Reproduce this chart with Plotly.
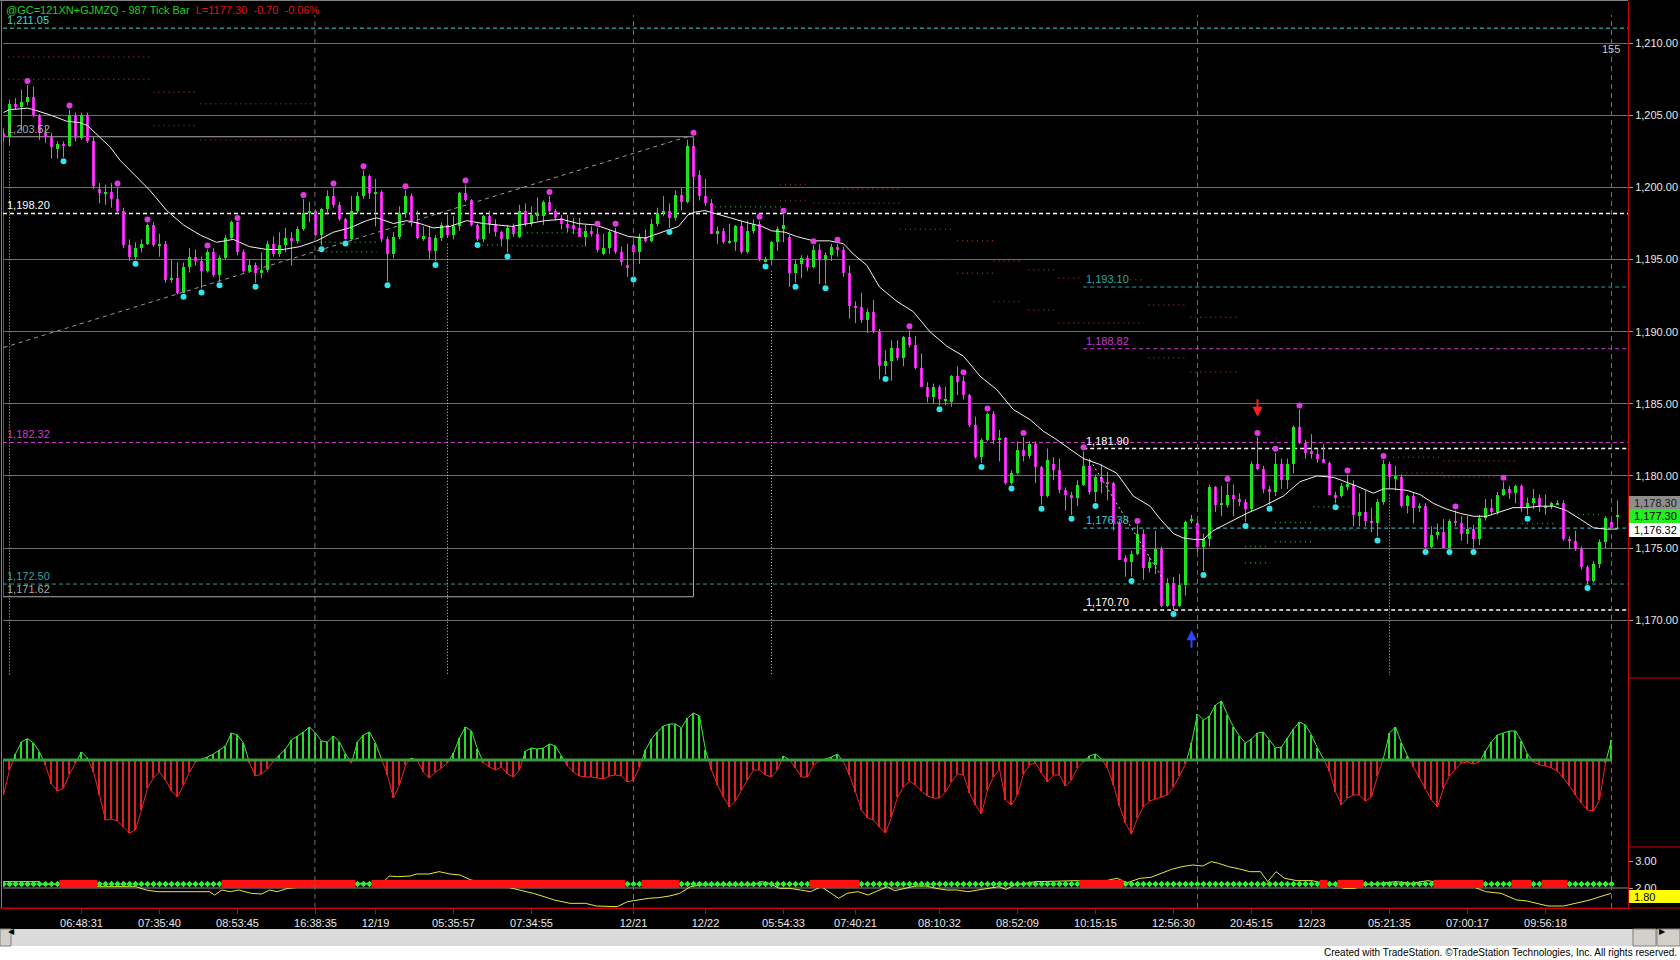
import plotly.graph_objects as go

# ---------------------------------------------------------------- data
OPEN = [
1203.8,1203.5,1205.8,1205.6,1205.9,1206.3,1205.0,1203.8,1203.5,1202.7,
1203.0,1202.9,1205.0,1203.4,1205.0,1203.2,1199.9,1199.6,1199.7,1199.2,
1198.4,1196.0,1195.2,1195.8,1196.1,1197.4,1196.0,1196.1,1193.6,1193.7,
1192.7,1194.5,1195.2,1194.9,1194.2,1195.5,1193.9,1195.1,1196.5,1197.6,
1195.5,1194.2,1194.6,1194.1,1194.3,1196.1,1195.4,1196.0,1196.5,1196.3,
1197.1,1198.2,1198.4,1196.7,1198.5,1199.4,1198.8,1197.8,1196.4,1198.4,
1199.4,1200.8,1199.6,1199.7,1196.4,1195.4,1196.6,1198.2,1199.4,1197.6,
1196.5,1196.6,1195.6,1196.5,1197.4,1196.7,1197.3,1199.6,1199.1,1197.4,
1196.4,1198.0,1197.5,1196.9,1196.4,1197.3,1196.6,1198.4,1197.5,1198.1,
1198.0,1199.0,1198.4,1197.9,1197.5,1197.4,1197.2,1196.6,1197.0,1196.8,
1195.4,1195.8,1196.9,1195.5,1194.6,1196.0,1195.5,1196.6,1196.3,1197.5,
1198.2,1198.4,1197.9,1199.5,1199.0,1202.9,1200.9,1199.4,1198.9,1196.8,
1197.0,1196.2,1196.2,1197.3,1195.5,1197.0,1197.5,1194.9,1195.0,1196.2,
1197.1,1196.6,1194.1,1194.7,1195.1,1194.5,1195.7,1195.0,1195.3,1195.9,
1195.7,1194.1,1191.8,1191.7,1190.8,1191.4,1190.0,1187.6,1188.0,1188.9,
1188.2,1189.6,1189.1,1187.5,1186.2,1185.5,1186.2,1185.3,1185.1,1186.9,
1186.6,1185.6,1183.5,1181.3,1182.5,1184.3,1182.5,1182.6,1179.5,1180.2,
1181.8,1181.4,1182.2,1180.6,1178.6,1180.8,1180.4,1179.0,1178.7,1178.5,
1179.4,1180.7,1178.9,1179.9,1179.6,1179.5,1176.7,1174.3,1174.0,1174.6,
1176.0,1173.6,1173.8,1174.9,1171.0,1172.6,1171.0,1172.4,1176.9,1176.7,
1175.1,1175.6,1179.2,1178.0,1178.0,1178.7,1178.4,1178.2,1177.7,1180.8,
1180.5,1179.1,1178.9,1180.8,1179.7,1180.8,1183.4,1182.3,1181.7,1181.5,
1181.2,1180.9,1178.7,1178.6,1179.3,1179.4,1177.2,1177.5,1176.9,1176.7,
1178.2,1180.8,1179.9,1179.9,1177.9,1178.6,1177.8,1177.9,1175.1,1175.9,
1176.1,1175.0,1176.9,1176.7,1176.0,1176.3,1175.6,1177.1,1177.8,1177.5,
1178.7,1179.1,1178.8,1179.3,1177.8,1178.1,1178.5,1177.8,1177.9,1178.0,
1178.1,1175.6,1175.5,1174.9,1173.7,1172.7,1173.9,1175.4,1176.8,1177.2]
HIGH = [
1204.1,1206.1,1206.2,1206.8,1207.1,1207.0,1205.1,1204.2,1203.8,1203.2,
1203.2,1205.4,1205.2,1205.2,1205.2,1203.5,1200.3,1200.2,1200.3,1200.0,
1198.6,1196.4,1196.2,1196.4,1197.5,1197.6,1196.8,1196.3,1195.0,1194.8,
1194.8,1195.8,1195.7,1195.2,1195.7,1195.8,1195.3,1196.7,1197.7,1197.6,
1195.7,1195.0,1194.8,1195.5,1196.3,1196.6,1196.9,1197.2,1196.9,1197.3,
1199.2,1199.0,1198.5,1198.6,1199.8,1200.0,1199.0,1197.9,1199.4,1199.7,
1201.2,1200.9,1200.6,1199.8,1196.6,1196.9,1198.7,1199.8,1199.6,1198.4,
1197.3,1197.3,1196.7,1197.6,1198.1,1198.0,1199.7,1200.2,1199.2,1197.5,
1198.1,1198.4,1197.8,1197.0,1197.4,1197.5,1198.8,1198.9,1198.7,1199.3,
1199.1,1199.4,1198.5,1198.1,1198.1,1197.9,1197.9,1197.4,1197.3,1197.2,
1196.8,1197.1,1197.2,1195.9,1196.1,1196.2,1196.8,1197.1,1197.8,1198.6,
1199.4,1198.9,1199.8,1200.0,1203.3,1203.52,1201.2,1200.6,1199.2,1197.3,
1197.2,1197.5,1197.4,1197.7,1197.7,1197.8,1197.7,1195.2,1196.3,1197.3,
1198.1,1196.7,1195.0,1195.3,1195.3,1196.0,1196.1,1195.5,1196.1,1196.1,
1195.9,1194.6,1192.1,1192.7,1191.6,1192.2,1190.2,1188.7,1189.4,1189.4,
1189.7,1190.1,1189.7,1188.5,1186.5,1186.4,1186.3,1186.2,1187.0,1187.6,
1186.9,1185.7,1184.1,1182.6,1184.4,1184.5,1183.2,1182.7,1180.4,1182.4,
1182.7,1182.4,1182.4,1180.7,1181.9,1181.3,1181.2,1179.2,1178.9,1179.7,
1181.7,1181.2,1180.1,1180.8,1180.3,1179.6,1176.9,1174.5,1174.8,1176.6,
1176.3,1174.4,1176.2,1175.1,1172.9,1173.0,1173.2,1176.9,1177.3,1177.2,
1176.0,1179.4,1179.3,1179.3,1179.5,1179.4,1178.8,1178.4,1181.0,1182.7,
1180.7,1179.3,1181.6,1181.2,1181.2,1183.5,1184.6,1182.5,1182.9,1181.9,
1182.2,1181.0,1178.9,1179.5,1180.1,1179.7,1178.8,1179.0,1177.8,1178.4,
1181.1,1181.0,1180.7,1180.1,1178.7,1178.8,1178.1,1178.1,1176.5,1176.7,
1177.0,1177.0,1177.6,1177.2,1177.2,1176.6,1177.3,1178.4,1178.4,1178.9,
1179.6,1179.3,1179.4,1179.4,1178.5,1179.1,1178.7,1178.7,1178.2,1178.3,
1178.3,1175.8,1176.2,1175.1,1173.8,1174.1,1175.6,1177.2,1176.9,1178.3]
LOW = [
1203.2,1202.9,1205.4,1203.9,1205.7,1204.9,1203.3,1203.1,1202.0,1202.0,
1202.1,1202.8,1203.2,1203.3,1203.1,1199.9,1198.9,1198.8,1198.6,1198.2,
1195.8,1194.9,1195.0,1195.5,1196.0,1195.9,1195.2,1193.4,1193.4,1192.6,
1192.7,1194.1,1194.6,1193.0,1194.1,1193.8,1193.5,1195.0,1196.4,1195.3,
1194.1,1194.1,1193.4,1193.7,1194.1,1195.2,1195.2,1195.5,1194.6,1196.1,
1197.0,1197.6,1196.6,1196.0,1198.1,1198.6,1197.7,1196.4,1196.3,1198.2,
1199.2,1199.2,1197.3,1196.2,1193.5,1195.1,1196.4,1197.9,1197.3,1196.4,
1196.3,1195.0,1194.9,1196.3,1196.5,1196.4,1197.0,1199.0,1197.3,1196.3,
1196.2,1196.8,1196.6,1195.9,1195.5,1196.6,1196.5,1197.3,1197.3,1197.7,
1197.4,1198.3,1197.7,1197.1,1196.9,1196.8,1196.6,1195.9,1196.6,1195.5,
1195.3,1195.4,1195.4,1194.6,1193.8,1193.9,1194.7,1196.2,1196.2,1197.3,
1198.0,1197.2,1197.7,1198.4,1198.9,1200.6,1199.1,1198.7,1196.8,1196.1,
1196.1,1196.1,1195.6,1195.4,1195.4,1196.8,1194.9,1194.8,1194.6,1195.6,
1196.2,1193.1,1193.4,1193.7,1194.2,1194.4,1193.3,1193.3,1194.9,1195.2,
1193.8,1190.9,1190.6,1190.6,1189.9,1189.9,1186.7,1187.0,1186.6,1188.0,
1187.6,1188.9,1187.4,1186.2,1185.1,1185.0,1184.9,1184.9,1184.8,1185.6,
1185.3,1183.4,1181.2,1180.9,1182.4,1182.2,1181.0,1179.4,1179.4,1180.1,
1181.0,1181.2,1179.5,1178.0,1178.5,1179.7,1178.8,1177.6,1177.3,1177.9,
1179.3,1178.7,1178.2,1178.8,1178.3,1176.2,1174.2,1173.0,1173.0,1174.5,
1172.8,1173.3,1173.2,1170.9,1170.9,1170.7,1170.9,1171.7,1176.7,1174.7,
1173.4,1175.1,1177.5,1177.2,1177.8,1177.2,1177.9,1176.8,1177.5,1180.4,
1178.8,1178.0,1178.6,1179.1,1179.1,1180.2,1182.2,1181.2,1181.2,1180.9,
1180.9,1178.7,1178.1,1178.5,1179.0,1176.5,1176.5,1176.5,1176.1,1175.8,
1178.0,1179.1,1179.0,1177.8,1177.4,1176.7,1177.5,1175.0,1175.0,1175.6,
1175.0,1175.0,1176.5,1175.5,1175.3,1175.0,1175.2,1176.9,1177.3,1177.3,
1178.6,1178.4,1178.1,1177.5,1177.3,1177.7,1177.5,1177.3,1177.7,1178.0,
1175.5,1174.9,1174.8,1173.5,1172.5,1172.6,1173.6,1175.0,1176.3,1176.3]
CLOSE = [
1203.5,1205.8,1205.6,1205.9,1206.3,1205.0,1203.8,1203.5,1202.8,1203.0,
1202.9,1205.0,1203.4,1205.0,1203.2,1200.1,1199.6,1199.7,1199.2,1198.4,
1196.0,1195.2,1195.8,1196.1,1197.4,1196.0,1196.1,1193.6,1193.7,1192.7,
1194.5,1195.2,1194.9,1194.2,1195.5,1193.9,1195.1,1196.5,1197.6,1195.5,
1194.2,1194.6,1194.1,1194.3,1196.1,1195.4,1196.0,1196.5,1196.3,1197.1,
1198.2,1198.4,1196.7,1198.5,1199.4,1198.8,1197.8,1196.4,1198.4,1199.4,
1200.8,1199.6,1199.7,1196.4,1195.4,1196.6,1198.2,1199.4,1197.6,1196.5,
1196.6,1195.6,1196.5,1197.4,1196.7,1197.3,1199.6,1199.1,1197.4,1196.4,
1198.0,1197.5,1196.9,1196.4,1197.2,1196.8,1198.4,1197.5,1198.1,1198.2,
1199.0,1198.4,1197.9,1197.5,1197.2,1197.1,1196.6,1197.0,1196.8,1195.7,
1195.8,1196.9,1195.5,1194.8,1194.4,1195.5,1196.6,1196.3,1197.5,1198.2,
1198.4,1197.9,1199.5,1199.0,1202.9,1200.7,1199.4,1198.9,1196.8,1197.0,
1196.2,1196.3,1197.3,1195.5,1197.0,1197.5,1195.0,1195.0,1196.2,1197.1,
1197.4,1194.1,1194.7,1195.1,1194.5,1195.7,1195.0,1195.3,1195.9,1195.7,
1194.1,1191.8,1191.7,1190.8,1191.4,1190.0,1187.6,1188.0,1188.9,1188.2,
1189.6,1189.1,1187.5,1186.2,1185.5,1186.2,1185.3,1185.3,1186.9,1186.5,
1185.6,1183.5,1181.3,1182.5,1184.3,1182.5,1182.6,1179.5,1180.2,1181.8,
1181.4,1182.2,1180.6,1178.6,1181.1,1180.4,1179.0,1178.7,1178.5,1179.4,
1180.7,1178.9,1179.9,1179.6,1179.5,1176.7,1174.2,1174.0,1174.6,1176.0,
1173.6,1174.0,1174.9,1171.0,1172.6,1171.0,1172.4,1176.8,1177.0,1175.1,
1175.6,1179.2,1178.0,1178.1,1178.7,1178.4,1178.2,1177.7,1180.8,1180.5,
1179.1,1178.9,1180.8,1179.7,1180.8,1183.4,1182.3,1181.6,1181.5,1181.2,
1180.9,1178.7,1178.5,1179.3,1179.4,1177.3,1177.5,1176.9,1176.7,1178.2,
1180.8,1179.9,1179.9,1177.9,1178.6,1177.8,1177.9,1175.1,1175.9,1176.1,
1175.0,1176.9,1176.7,1176.0,1176.3,1175.6,1177.1,1177.8,1177.5,1178.7,
1179.1,1178.8,1179.3,1177.8,1178.1,1178.5,1177.9,1177.9,1178.1,1178.1,
1175.6,1175.5,1174.9,1173.7,1172.7,1173.9,1175.4,1177.1,1176.4,1177.3]

# moving average (bar position, price)
MA_BAR = [0,1,4,5,8,10.5,12.7,14,16,17.8,19.4,21.6,24.4,27.2,30,32.8,35.5,38.3,41,43.9,
          46.6,49.4,52.2,55,57.7,60.5,62.2,65,67.2,69.4,71.6,74.4,77.2,80,82.7,84.7,87.5,
          90.3,93,95.8,98.7,101.4,104.2,107,109.7,112.5,114.1,115.3,116.9,118.6,120.8,
          123.6,126.4,128,130.2,132.2,135,137.7,140,141.6,143.9,146,148.9,151.6,154.4,
          157.2,160,162.8,165.5,168.3,171.1,173.3,175.2,177.2,180,182.7,185.5,188.3,191.1,
          192.8,195,196.6,198.3,200,201.6,204.4,207.2,210,213.3,216.1,218.9,221.7,225.5,
          228.3,230,231.6,233.9,236.1,238.3,240.5,242.8,245,247.2,249.4,251.6,253.9,256.1,
          258.3,260.5,262.8,265,267.2,269]
MA_VAL = [1205.2,1205.4,1205.5,1205.4,1205.0,1204.6,1204.5,1204.3,1203.5,1202.8,1201.9,
          1201.0,1199.8,1198.4,1197.4,1196.7,1196.2,1196.4,1195.9,1195.7,1195.7,1195.9,
          1196.3,1196.9,1197.2,1197.7,1197.9,1197.5,1197.7,1197.5,1197.2,1197.3,1197.7,
          1197.5,1197.4,1197.3,1197.5,1197.7,1197.8,1197.5,1197.4,1197.0,1196.6,1196.5,
          1196.9,1197.3,1198.1,1198.3,1198.4,1198.2,1197.9,1197.6,1197.3,1197.0,1196.9,
          1196.6,1196.3,1196.3,1196.1,1195.4,1194.6,1193.1,1192.1,1191.4,1190.0,1189.0,
          1188.3,1186.9,1186.0,1184.6,1183.9,1183.1,1182.6,1182.0,1181.2,1180.8,1180.2,
          1178.6,1177.9,1177.0,1176.0,1175.7,1175.6,1175.6,1176.2,1176.8,1177.4,1177.9,
          1178.6,1179.6,1180.0,1179.9,1179.3,1178.8,1179.1,1179.1,1179.0,1178.7,1178.1,
          1177.7,1177.4,1177.2,1177.2,1177.5,1177.8,1177.8,1177.9,1177.9,1177.6,1177.0,
          1176.4,1176.3,1176.32]

# oscillator (one value per bar, arbitrary units)
OSC = [
-35,-10,6,18,21.5,17,8,-5,-24,-31,
-28,-14,-3,8,2,-12,-35,-60,-59,-61,
-67,-73,-70,-50,-28,-18,-12,-20,-31,-37,
-25,-12,-2,1,3,6,10,14,27,25,
17,-3,-16,-14,-9,-1,5,11,20,24,
28,33,27,19,18,24,18,6,-3,18,
25,28,17,1,-15,-38,-25,-5,2,-1,
-12,-18,-12,-8,-3,7,22,33,29,11,
-3,-7,-10,-7,-14,-17,-10,9,12,11,
12,16,14,4,-6,-12,-16,-17,-17,-18,
-19,-16,-15,-16,-22,-20,-7,10,21,28,
34,36,36,32,42,47,44,10,-10,-25,
-37,-47,-41,-30,-20,-10,-10,-15,-17,-10,
4,0,-8,-17,-17,-5,-1,1,3,6,
-2,-15,-32,-50,-58,-60,-67,-73,-57,-37,
-27,-21,-25,-31,-36,-38,-38,-32,-22,-14,
-15,-33,-45,-54,-30,-17,-9,-40,-45,-35,
-14,-5,-3,-13,-22,-15,-15,-26,-20,-8,
-2,4,6,1,-8,-25,-46,-63,-74,-58,
-47,-41,-39,-37,-35,-27,-16,-4,17,46,
40,44,55,59,45,33,24,17,21,27,
28,20,12,13,22,31,38,35,25,12,
1,-11,-32,-45,-38,-35,-35,-41,-37,-16,
2,27,33,17,4,-7,-18,-29,-40,-47,
-28,-16,-9,-3,-2,-4,-2,9,18,25,
27,29,29,19,6,-2,-5,-6,-8,-11,
-18,-26,-35,-43,-50,-51,-40,-3,20]

# lower study: yellow line (bar position, value)
YEL_BAR = [0,6.0,6.4,9.9,16.0,22.1,22.9,23.8,25.6,34.3,35.2,36.4,37.8,39.2,41.3,43.0,44.4,45.6,
           47.4,50.0,51.7,53.5,63.1,64.3,65.7,67.8,68.8,70.9,72.6,74.4,76.1,77.9,81.4,84.8,
           86.6,88.3,90.1,91.8,94.4,97.0,98.8,100.5,102.3,104.0,105.8,107.5,109.2,111.0,
           112.7,114.5,116.2,124.9,126.3,127.6,129.3,131.0,132.8,134.5,136.3,138.0,139.2,
           140.6,142.4,144.1,145.9,147.3,148.5,150.2,152.0,153.7,155.4,157.2,158.9,160.7,
           162.4,164.2,165.9,167.1,168.5,170.3,172.0,179.0,180.7,182.5,184.2,185.6,187.3,
           189.4,191.2,192.9,194.7,196.4,198.2,199.9,201.3,202.5,204.2,206.0,207.7,209.5,
           210.7,212.1,213.5,215.6,218.2,219.9,221.7,223.4,225.2,226.9,229.5,232.1,234.7,
           237.4,240.0,243.5,245.2,247.0,249.6,252.2,253.9,255.7,257.4,260.0,261.8,264.4,
           266.1,267.9]
YEL_VAL = [2.234,2.234,2.136,2.136,2.049,2.049,1.988,1.926,1.864,1.864,1.741,1.926,1.864,1.926,
           1.802,1.778,1.926,1.864,1.988,2.049,2.074,2.173,2.173,2.444,2.42,2.444,2.519,2.519,
           2.605,2.519,2.481,2.296,2.173,1.988,1.901,1.802,1.679,1.556,1.432,1.432,1.333,1.309,
           1.309,1.494,1.556,1.617,1.642,1.704,1.802,2.049,2.111,2.111,2.234,2.173,1.988,1.988,
           1.926,1.864,2.049,1.802,1.617,1.802,1.864,1.741,1.926,2.049,1.901,1.988,2.074,2.074,
           1.988,1.926,1.926,1.864,1.926,1.988,2.049,1.95,2.111,2.173,2.234,2.271,2.234,2.173,
           2.296,2.358,2.197,2.358,2.395,2.543,2.691,2.79,2.852,2.815,2.975,2.914,2.79,2.704,
           2.605,2.605,2.234,2.605,2.358,2.271,2.271,2.173,2.111,1.988,1.988,2.111,2.173,2.234,
           2.173,2.271,2.173,2.173,2.025,1.864,1.802,1.556,1.519,1.432,1.333,1.333,1.432,1.556,
           1.679,1.80]
SIGNAL_LEVEL = 2.15
SIGNAL_RUNS = [(10, 15), (37, 58), (62, 103), (107, 112), (135, 142), (180, 186),
               (220, 220), (223, 226), (239, 246), (252, 254), (257, 260)]
SIGNAL_LAST_BAR = 268

PIVOT_HIGH_BARS = [4, 11, 19, 24, 34, 39, 50, 55, 60, 67, 77, 91, 99, 102, 115, 126, 130, 135,
                   139, 151, 160, 164, 170, 180, 189, 204, 209, 212, 216, 224, 230, 242, 250]
PIVOT_LOW_BARS = [10, 22, 30, 33, 36, 42, 53, 57, 64, 72, 79, 84, 105, 111, 127, 132, 137, 147,
                  156, 163, 168, 173, 178, 182, 188, 195, 200, 207, 211, 222, 229, 237, 241,
                  245, 254, 264]

SESSION_BARS = [1, 74, 128, 231]
DAY_SEP_BARS = [51.9, 105.0, 199.0, 268.0]

TICK_BARS = [13, 26, 39, 52, 62, 75, 88, 105, 117, 130, 142, 156, 169, 182, 195, 208, 218, 231, 244, 257]
TICK_TEXT = ["06:48:31", "07:35:40", "08:53:45", "16:38:35", "12/19", "05:35:57", "07:34:55",
             "12/21", "12/22", "05:54:33", "07:40:21", "08:10:32", "08:52:09", "10:15:15",
             "12:56:30", "20:45:15", "12/23", "05:21:35", "07:00:17", "09:56:18"]
PRICE_TICKS = [1170, 1175, 1180, 1185, 1190, 1195, 1200, 1205, 1210]
STUDY_TICKS = [2, 3]

FULL_LEVELS = [1211.05, 1198.20, 1182.32, 1172.50]
PART_LEVELS = [1193.10, 1188.82, 1181.90, 1176.38, 1170.70]
PART_LEVEL_START_BAR = 180
BOX_TOP, BOX_BOTTOM, BOX_END_BAR = 1203.52, 1171.62, 115
TREND_UP = [(0, 1188.9), (114.6, 1203.6)]
TREND_DOWN = [(181.1, 1181.1), (193.0, 1173.0)]
RES_SEGMENTS = [
    (1209.05, 0.8, 24.4), (1207.5, 0.8, 24.4), (1206.6, 25.0, 32.0), (1204.3, 25.0, 32.0),
    (1205.8, 32.8, 51.4), (1203.3, 32.8, 51.4), (1200.2, 129.4, 134.0), (1199.1, 129.4, 134.0),
    (1199.9, 139.8, 149.4), (1198.9, 135.0, 149.4), (1197.1, 149.4, 158.0), (1195.0, 149.4, 158.0),
    (1196.3, 158.9, 165.6), (1194.05, 158.9, 165.6), (1194.9, 165.0, 170.0), (1192.1, 165.0, 170.0),
    (1194.3, 170.8, 175.2), (1191.5, 170.8, 175.2), (1193.7, 175.8, 179.4), (1190.6, 175.8, 190.0),
    (1193.6, 187.8, 190.0), (1191.85, 190.8, 197.2), (1188.2, 190.8, 197.2), (1191.0, 197.8, 206.1),
    (1187.2, 197.8, 206.1), (1181.3, 231.6, 239.4), (1181.05, 240.0, 252.0), (1180.2, 233.0, 240.0),
    (1179.9, 240.0, 249.0)]
SUP_SEGMENTS = [
    (1196.2, 52.7, 62.2), (1195.55, 53.8, 62.2), (1196.0, 78.9, 82.7), (1196.87, 84.7, 96.9),
    (1195.96, 84.7, 96.9), (1198.67, 118.6, 130.3), (1177.86, 218.3, 224.4), (1176.76, 211.9, 218.3),
    (1176.25, 218.5, 225.5), (1175.44, 211.9, 218.3), (1175.1, 206.9, 211.1), (1173.98, 206.9, 211.1),
    (1177.33, 261.6, 266.6), (1176.7, 253.1, 258.3)]

LAST_HIGH = 1178.30
LAST_PRICE = 1177.30
MA_LAST = 1176.32
STUDY_LAST = 1.80
BAR_COUNT_TEXT = "155"
BAR_COUNT_POS = (267.9, 1209.6)
SELL_ARROW = (209, 1184.1)
BUY_ARROW = (198, 1169.3)
HEADER_SYMBOL = "@GC=121XN+GJMZQ - 987 Tick Bar"
HEADER_QUOTE = "L=1177.30  -0.70  -0.06%"
FOOTER = "Created with TradeStation. \u00a9TradeStation Technologies, Inc. All rights reserved."

# ---------------------------------------------------------------- geometry / style
W, H = 1680, 960
PL, PR, PT, PB = 3, 1628, 2, 908          # plot area in px
MAIN_BOTTOM_PX, OSC_BOTTOM_PX = 678, 847
BAR_X0, BAR_DX = 3.5, 6.0                 # px of bar 0, px per bar
PX_PER_POINT, PX_1210 = 14.42, 43.3


def px_x(px):
    return (px - PL) / (PR - PL)


def px_y(py):
    return (PB - py) / (PB - PT)


X_RANGE = [(PL - BAR_X0) / BAR_DX, (PR - BAR_X0) / BAR_DX]
P_RANGE = [1210 - (MAIN_BOTTOM_PX - PX_1210) / PX_PER_POINT, 1210 + (PX_1210 - PT) / PX_PER_POINT]
OSC_RANGE = [-87, 82]
STUDY_RANGE = [2 - (PB - 888) / 27.0, 3 + (861 - OSC_BOTTOM_PX) / 27.0]
D_MAIN = px_y(MAIN_BOTTOM_PX)
D_OSC = px_y(OSC_BOTTOM_PX)

GREEN = "#22e622"
MAGENTA = "#e026e0"
WICK = "#8e8e8e"
RED_AX = "#d00000"
FONT = "Arial"
FULL_LEVEL_COLORS = ["#3fd6c6", "#ffffff", "#d23ad2", "#2a9e96"]
FULL_LABEL_COLORS = ["#3fd6d6", "#ffffff", "#c83ac8", "#2aa3a0"]
PART_LEVEL_COLORS = ["#2a9e9e", "#d23ad2", "#ffffff", "#40c8d8", "#ffffff"]
PART_LABEL_COLORS = ["#2aa8a8", "#c83ac8", "#ffffff", "#40c8d8", "#ffffff"]

n = len(CLOSE)
idx = list(range(n))

fig = go.Figure()

# dotted resistance / support segments
for segs, col in ((RES_SEGMENTS, "#8a2c1c"), (SUP_SEGMENTS, "#20962a")):
    xs, ys = [], []
    for p, a, b in segs:
        xs += [a, b, None]
        ys += [p, p, None]
    fig.add_trace(go.Scatter(x=xs, y=ys, mode="lines", xaxis="x", yaxis="y",
                             line=dict(color=col, width=1.5, dash="1px,4px"), hoverinfo="skip"))

# wicks
wx, wy = [], []
for i in idx:
    lo = min(LOW[i], OPEN[i], CLOSE[i])
    hi = max(HIGH[i], OPEN[i], CLOSE[i])
    wx += [i, i, None]
    wy += [lo, hi, None]
fig.add_trace(go.Scatter(x=wx, y=wy, mode="lines", line=dict(color=WICK, width=1),
                         xaxis="x", yaxis="y", hoverinfo="skip"))

# bodies
bases, heights, cols = [], [], []
for i in idx:
    lo, hi = min(OPEN[i], CLOSE[i]), max(OPEN[i], CLOSE[i])
    if hi - lo < 0.12:
        mid = (hi + lo) / 2
        lo, hi = mid - 0.06, mid + 0.06
    bases.append(lo)
    heights.append(hi - lo)
    cols.append(GREEN if CLOSE[i] >= OPEN[i] else MAGENTA)
fig.add_trace(go.Bar(x=idx, y=heights, base=bases, width=0.66, marker=dict(color=cols, line=dict(width=0)),
                     xaxis="x", yaxis="y", hoverinfo="skip"))

# moving average
fig.add_trace(go.Scatter(x=MA_BAR, y=MA_VAL, mode="lines", line=dict(color="#f2f2f2", width=1),
                         xaxis="x", yaxis="y", hoverinfo="skip"))

# pivot dots
fig.add_trace(go.Scatter(x=PIVOT_HIGH_BARS, y=[HIGH[i] + 0.28 for i in PIVOT_HIGH_BARS], mode="markers",
                         marker=dict(color="#e23ae2", size=6), xaxis="x", yaxis="y", hoverinfo="skip"))
fig.add_trace(go.Scatter(x=PIVOT_LOW_BARS, y=[LOW[i] - 0.28 for i in PIVOT_LOW_BARS], mode="markers",
                         marker=dict(color="#30e6ea", size=6), xaxis="x", yaxis="y", hoverinfo="skip"))

# oscillator stems
m = len(OSC)
fig.add_trace(go.Bar(x=list(range(m)), y=OSC, width=0.17,
                     marker=dict(color=["#2ad82a" if v >= 0 else "#d82222" for v in OSC], line=dict(width=0)),
                     xaxis="x", yaxis="y2", hoverinfo="skip"))
# oscillator line split by sign
gx, gy, rx, ry = [], [], [], []
for i in range(m - 1):
    v0, v1 = OSC[i], OSC[i + 1]
    if (v0 >= 0) == (v1 >= 0):
        tx, ty = (gx, gy) if v0 >= 0 else (rx, ry)
        tx += [i, i + 1, None]
        ty += [v0, v1, None]
    else:
        xc = i + v0 / (v0 - v1)
        a = (gx, gy) if v0 >= 0 else (rx, ry)
        b = (gx, gy) if v1 >= 0 else (rx, ry)
        a[0].extend([i, xc, None]); a[1].extend([v0, 0, None])
        b[0].extend([xc, i + 1, None]); b[1].extend([0, v1, None])
fig.add_trace(go.Scatter(x=gx, y=gy, mode="lines", line=dict(color="#36f036", width=1),
                         xaxis="x", yaxis="y2", hoverinfo="skip"))
fig.add_trace(go.Scatter(x=rx, y=ry, mode="lines", line=dict(color="#f02424", width=1),
                         xaxis="x", yaxis="y2", hoverinfo="skip"))

# lower study
fig.add_trace(go.Scatter(x=YEL_BAR, y=YEL_VAL, mode="lines", line=dict(color="#e8e838", width=1),
                         xaxis="x", yaxis="y3", hoverinfo="skip"))
sig_bars = list(range(SIGNAL_LAST_BAR + 1))
on = [any(a <= i <= b for a, b in SIGNAL_RUNS) for i in sig_bars]
fig.add_trace(go.Scatter(x=[i for i, s in zip(sig_bars, on) if not s], y=[SIGNAL_LEVEL] * on.count(False),
                         mode="markers", marker=dict(symbol="diamond", size=5, color="#2ef02e"),
                         xaxis="x", yaxis="y3", hoverinfo="skip"))
fig.add_trace(go.Scatter(x=[i for i, s in zip(sig_bars, on) if s], y=[SIGNAL_LEVEL] * on.count(True),
                         mode="markers", marker=dict(symbol="square", size=8, color="#ff1010"),
                         xaxis="x", yaxis="y3", hoverinfo="skip"))

shapes = []
ann = []

# full width dashed levels
for p, col, lcol in zip(FULL_LEVELS, FULL_LEVEL_COLORS, FULL_LABEL_COLORS):
    shapes.append(dict(type="line", xref="paper", yref="y", x0=0, x1=1, y0=p, y1=p, layer="below",
                       line=dict(color=col, width=1.4 if col == "#ffffff" else 1, dash="4px,3px")))
    ann.append(dict(x=0.25, y=p, xref="x", yref="y", text=f"{p:,.2f}", showarrow=False, xanchor="left",
                    yanchor="bottom", font=dict(color=lcol, size=11, family=FONT)))
# partial dashed levels
for p, col, lcol in zip(PART_LEVELS, PART_LEVEL_COLORS, PART_LABEL_COLORS):
    shapes.append(dict(type="line", xref="x", yref="y", x0=PART_LEVEL_START_BAR - 0.05, x1=X_RANGE[1],
                       y0=p, y1=p, layer="below",
                       line=dict(color=col, width=1.4 if col == "#ffffff" else 1, dash="4px,3px")))
    ann.append(dict(x=PART_LEVEL_START_BAR + 0.1, y=p, xref="x", yref="y", text=f"{p:,.2f}", showarrow=False,
                    xanchor="left", yanchor="bottom", font=dict(color=lcol, size=11, family=FONT)))
# box and its labels
shapes.append(dict(type="rect", xref="x", yref="y", x0=X_RANGE[0], x1=BOX_END_BAR, y0=BOX_BOTTOM, y1=BOX_TOP,
                   layer="below", line=dict(color="#a8a8a8", width=1)))
for p in (BOX_TOP, BOX_BOTTOM):
    ann.append(dict(x=0.25, y=p, xref="x", yref="y", text=f"{p:,.2f}", showarrow=False, xanchor="left",
                    yanchor="bottom", font=dict(color="#a8a8a8", size=11, family=FONT)))
# trendlines
for (a, pa), (b, pb), col, dash in ((TREND_UP[0], TREND_UP[1], "#9a9a9a", "4px,4px"),
                                    (TREND_DOWN[0], TREND_DOWN[1], "#d8d8d8", "2px,3px")):
    shapes.append(dict(type="line", xref="x", yref="y", x0=a, x1=b, y0=pa, y1=pb,
                       line=dict(color=col, width=1, dash=dash)))
# session markers (yellow dotted)
for b in SESSION_BARS:
    shapes.append(dict(type="line", xref="x", yref="y", x0=b, x1=b, y0=LOW[b] - 0.4, y1=P_RANGE[0] + 0.2,
                       line=dict(color="#e6e600", width=1, dash="1px,2px")))
# day separators
for b in DAY_SEP_BARS:
    shapes.append(dict(type="line", xref="x", yref="paper", x0=b, x1=b, y0=0, y1=px_y(15),
                       line=dict(color="#6e6e6e", width=1, dash="5px,4px")))
# oscillator zero line
shapes.append(dict(type="line", xref="x", yref="y2", x0=X_RANGE[0], x1=m - 1, y0=0, y1=0,
                   line=dict(color="#3e9a3e", width=3)))
# study 2.00 line
shapes.append(dict(type="line", xref="paper", yref="y3", x0=0, x1=1, y0=2, y1=2, layer="below",
                   line=dict(color="#8c8c8c", width=1)))
# borders
shapes.append(dict(type="line", xref="paper", yref="paper", x0=px_x(1.5), x1=px_x(1.5), y0=0, y1=px_y(0),
                   line=dict(color="#808080", width=1)))
shapes.append(dict(type="line", xref="paper", yref="paper", x0=px_x(0), x1=1, y0=px_y(0.5), y1=px_y(0.5),
                   line=dict(color="#808080", width=1)))
shapes.append(dict(type="line", xref="paper", yref="paper", x0=px_x(0), x1=px_x(W), y0=0, y1=0,
                   line=dict(color=RED_AX, width=1)))
for py in (MAIN_BOTTOM_PX, OSC_BOTTOM_PX):
    shapes.append(dict(type="line", xref="paper", yref="paper", x0=1, x1=px_x(W), y0=px_y(py), y1=px_y(py),
                       line=dict(color=RED_AX, width=1)))

# right-edge value boxes
def value_box(py0, py1, fill, text, tcol):
    shapes.append(dict(type="rect", xref="paper", yref="paper", x0=px_x(PR + 1), x1=px_x(W),
                       y0=px_y(py1), y1=px_y(py0), fillcolor=fill, line=dict(width=0)))
    ann.append(dict(x=px_x(PR + 4), y=px_y((py0 + py1) / 2), xref="paper", yref="paper", text=text,
                    showarrow=False, xanchor="left", yanchor="middle",
                    font=dict(color=tcol, size=11, family=FONT)))


value_box(496, 509, "#8e8e8e", f"{LAST_HIGH:,.2f}", "#202020")
value_box(509, 523, "#22ee22", f"{LAST_PRICE:,.2f}", "#000000")
value_box(523, 537, "#ffffff", f"{MA_LAST:,.2f}", "#000000")
value_box(890, 903, "#ffff00", f"{STUDY_LAST:.2f}", "#000000")

# header
ann.append(dict(x=px_x(4), y=px_y(10.5), xref="paper", yref="paper", showarrow=False, xanchor="left",
                yanchor="middle", font=dict(size=11, family=FONT),
                text='<span style="color:#1ed21e">' + HEADER_SYMBOL + '</span>\u00a0\u00a0<span style="color:#e01414">'
                     + HEADER_QUOTE.replace(" ", "\u00a0") + '</span>'))
ann.append(dict(x=BAR_COUNT_POS[0], y=BAR_COUNT_POS[1], xref="x", yref="y", text=BAR_COUNT_TEXT,
                showarrow=False, font=dict(color="#c8c8c8", size=11, family=FONT)))
# arrows
ann.append(dict(x=SELL_ARROW[0], y=SELL_ARROW[1], xref="x", yref="y", ax=0, ay=-19, showarrow=True,
                arrowhead=2, arrowsize=1, arrowwidth=2, arrowcolor="#ff2020", text=""))
ann.append(dict(x=BUY_ARROW[0], y=BUY_ARROW[1], xref="x", yref="y", ax=0, ay=19, showarrow=True,
                arrowhead=2, arrowsize=1, arrowwidth=2, arrowcolor="#2848ff", text=""))

# scrollbar + footer
shapes.append(dict(type="rect", xref="paper", yref="paper", x0=px_x(0), x1=px_x(W), y0=px_y(946), y1=px_y(929),
                   fillcolor="#dadada", line=dict(width=0)))
shapes.append(dict(type="rect", xref="paper", yref="paper", x0=px_x(0), x1=px_x(W), y0=px_y(960), y1=px_y(946),
                   fillcolor="#ffffff", line=dict(width=0)))
shapes.append(dict(type="rect", xref="paper", yref="paper", x0=px_x(0), x1=px_x(11), y0=px_y(946), y1=px_y(929),
                   fillcolor="#d4d0c8", line=dict(color="#808080", width=1)))
shapes.append(dict(type="rect", xref="paper", yref="paper", x0=px_x(1633), x1=px_x(1656), y0=px_y(946),
                   y1=px_y(929), fillcolor="#d4d0c8", line=dict(color="#808080", width=1)))
shapes.append(dict(type="rect", xref="paper", yref="paper", x0=px_x(1657), x1=px_x(W), y0=px_y(946),
                   y1=px_y(929), fillcolor="#d4d0c8", line=dict(color="#808080", width=1)))
ann.append(dict(x=px_x(5.5), y=px_y(937.5), xref="paper", yref="paper", text="\u25c0", showarrow=False,
                font=dict(color="#000000", size=8, family="DejaVu Sans")))
ann.append(dict(x=px_x(1668), y=px_y(937.5), xref="paper", yref="paper", text="\u25b6", showarrow=False,
                font=dict(color="#000000", size=8, family="DejaVu Sans")))
ann.append(dict(x=px_x(1679), y=px_y(953), xref="paper", yref="paper", text=FOOTER, showarrow=False,
                xanchor="right", yanchor="middle", font=dict(color="#000000", size=10, family=FONT)))

axis_font = dict(color="#e8e8e8", size=11, family=FONT)
fig.update_layout(
    width=W, height=H, margin=dict(l=PL, r=W - PR, t=PT, b=H - PB, pad=0),
    paper_bgcolor="#000000", plot_bgcolor="#000000", showlegend=False, hovermode=False,
    barmode="overlay", bargap=0,
    xaxis=dict(domain=[0, 1], range=X_RANGE, anchor="y3", tickmode="array", tickvals=TICK_BARS,
               ticktext=TICK_TEXT, ticks="outside", ticklen=5, tickcolor=RED_AX, tickfont=axis_font,
               showgrid=False, zeroline=False, showline=True, linecolor=RED_AX, linewidth=1, fixedrange=True),
    yaxis=dict(domain=[D_MAIN, 1], range=P_RANGE, side="right", anchor="x", tickmode="array",
               tickvals=PRICE_TICKS, tickformat=",.2f", ticks="outside", ticklen=4, tickcolor="#a0a0a0",
               tickfont=axis_font, showgrid=True, gridcolor="#6a6a6a", gridwidth=1, zeroline=False,
               showline=True, linecolor=RED_AX, linewidth=1, fixedrange=True),
    yaxis2=dict(domain=[D_OSC, D_MAIN], range=OSC_RANGE, side="right", anchor="x", showticklabels=False,
                ticks="", showgrid=False, zeroline=False, showline=True, linecolor=RED_AX, linewidth=1,
                fixedrange=True),
    yaxis3=dict(domain=[0, D_OSC], range=STUDY_RANGE, side="right", anchor="x", tickmode="array",
                tickvals=STUDY_TICKS, tickformat=".2f", ticks="outside", ticklen=4, tickcolor="#a0a0a0",
                tickfont=axis_font, showgrid=False, zeroline=False, showline=True, linecolor=RED_AX,
                linewidth=1, fixedrange=True),
    shapes=shapes, annotations=ann,
)

fig.write_html("out.html", config={"displayModeBar": False},
               post_script="document.body.style.margin='0';document.body.style.overflow='hidden';")
